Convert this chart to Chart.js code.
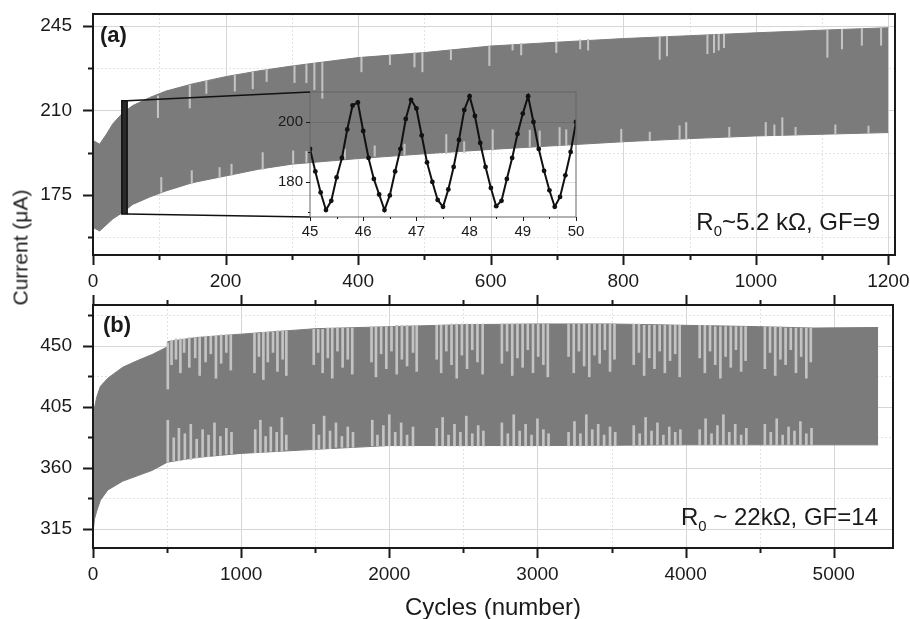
<!DOCTYPE html>
<html>
<head>
<meta charset="utf-8">
<script src="https://cdn.jsdelivr.net/npm/chart.js@4.4.1/dist/chart.umd.min.js"></script>
<style>
  html, body { margin: 0; padding: 0; background: #fff; }
  #wrap { position: relative; width: 910px; height: 619px; overflow: hidden;
          font-family: "Liberation Sans", Arial, sans-serif; color: #1a1a1a; }
  #wrap canvas { position: absolute; }
  .lbl { position: absolute; white-space: nowrap; line-height: 1; }
  .lbl sub { font-size: 0.62em; vertical-align: -0.4em; line-height: 0; }
</style>
</head>
<body>
<div id="wrap">
  <canvas id="chartA" width="910" height="290" style="left:0;top:0"></canvas>
  <canvas id="chartB" width="910" height="329" style="left:0;top:290px"></canvas>
  <canvas id="chartInset" width="330" height="165" style="left:255px;top:80px"></canvas>

  <div class="lbl" style="left:100px;top:24px;font-size:22px;font-weight:bold">(a)</div>
  <div class="lbl" style="left:103px;top:314px;font-size:22px;font-weight:bold">(b)</div>
  <div class="lbl" style="right:30px;top:210px;font-size:24px">R<sub>0</sub>~5.2 kΩ, GF=9</div>
  <div class="lbl" style="right:32px;top:505px;font-size:24px">R<sub>0</sub> ~ 22kΩ, GF=14</div>
  <div class="lbl" style="left:393px;top:595px;width:200px;text-align:center;font-size:24px">Cycles (number)</div>
  <div class="lbl" style="left:-80px;top:237px;width:200px;text-align:center;font-size:21px;transform:rotate(-90deg)">Current (μA)</div>
</div>

<script>
// ---------- panel (a): R0 ~ 5.2 kOhm ----------

const cyclesA = [0, 10, 20, 30, 45, 60, 85, 110, 150, 200, 250, 300, 400, 500, 600, 700, 800, 900, 1000, 1100, 1200];
const upperA  = [197.5, 196, 200, 204.5, 209, 212, 215.3, 218, 221, 224, 226.4, 228.4, 231.9, 234, 236.7, 238.3, 239.8, 241, 242.2, 243.3, 244.3];
const lowerA  = [161.4, 160, 162.5, 165, 167.7, 171, 174, 176.6, 180, 182.8, 185.6, 187.7, 190, 192, 193.8, 195.4, 197, 198.3, 199.4, 200.1, 200.8];

// light streaks hanging from the top edge: [cycle, from, to]
const streaksTopA = [
    [98, 207, 216], [146, 211, 220.5], [171, 217, 222.5], [214, 218, 224.5], [241, 219, 226],
    [262, 222, 227], [304, 221.5, 228.5], [322, 221.5, 229], [334, 218.6, 229.5], [346, 215, 229.8],
    [405, 226, 232], [448, 229, 233], [485, 228, 234], [497, 226, 234], [540, 231, 235],
    [598, 228.6, 236.7], [633, 235, 237.5], [646, 233, 237.8], [699, 234, 238.3], [735, 235.5, 239.3],
    [747, 235, 239.5], [855, 231.2, 240.6], [866, 232.6, 240.8], [927, 233.5, 241.3], [937, 234, 241.4],
    [944, 235, 241.5], [952, 236, 241.6], [1108, 232, 243.4], [1130, 235.5, 243.6], [1160, 237, 244],
    [1189, 237, 244.2]
];
// light streaks rising from the bottom edge
const streaksBotA = [
    [103, 176, 182.2], [149, 179.5, 185], [191, 182, 186.3], [209, 183, 187.7], [256, 185.5, 192.5],
    [302, 188, 193.2], [322, 188.5, 193], [380, 190, 194], [425, 191, 195.3], [470, 191.5, 196],
    [533, 192, 200], [560, 192.5, 197], [603, 193.5, 202], [659, 195, 201.8], [674, 195, 201.5],
    [704, 195.5, 202.9], [714, 195.5, 202], [797, 197, 202.2], [840, 197.5, 201], [885, 198, 203.6],
    [895, 198, 205], [960, 199, 203], [1015, 199.5, 205], [1028, 199.5, 204], [1040, 199.5, 207],
    [1060, 199.8, 203], [1120, 200, 204], [1170, 200.5, 203.5]
];

const ticksXA = [0, 100, 200, 300, 400, 500, 600, 700, 800, 900, 1000, 1100, 1200];
const ticksYA = [157.5, 175, 192.5, 210, 227.5, 245];

// zoomed window shown in the inset
const zoomBoxX = [45, 50];
const zoomBoxY = [167, 214];

// ---------- inset: cycles 45..50 ----------

const insetCycles = [
    45.0, 45.1, 45.2, 45.3, 45.4, 45.5, 45.6, 45.7, 45.8, 45.9,
    46.0, 46.1, 46.2, 46.3, 46.4, 46.5, 46.6, 46.7, 46.8, 46.9,
    47.0, 47.1, 47.2, 47.3, 47.4, 47.5, 47.6, 47.7, 47.8, 47.9,
    48.0, 48.1, 48.2, 48.3, 48.4, 48.5, 48.6, 48.7, 48.8, 48.9,
    49.0, 49.1, 49.2, 49.3, 49.4, 49.5, 49.6, 49.7, 49.8, 49.9, 50.0
];
const insetCurrent = [
    191, 183.5, 176.5, 170.6, 173.7, 181.5, 188, 197.5, 205.5, 206.5,
    197, 188, 181, 175.8, 170.6, 175.5, 183.5, 191, 201, 207.4,
    204.5, 195.5, 186.5, 180, 174, 171.7, 177.5, 185, 194, 204,
    208.6, 202, 193, 185, 178, 171.9, 173.7, 181, 188, 196,
    202.8, 208.6, 200, 191, 183.7, 177.2, 171.7, 175, 182.2, 190, 200
];
const ticksXI = [45, 45.5, 46, 46.5, 47, 47.5, 48, 48.5, 49, 49.5, 50];
const ticksYI = [170, 180, 190, 200, 210];

// ---------- panel (b): R0 ~ 22 kOhm ----------

const cyclesB = [0, 10, 25, 50, 100, 200, 300, 400, 500, 505, 700, 1000, 1500, 2000, 2500, 3000, 3500, 4000, 4500, 4860, 5300];
const upperB  = [390, 404, 412, 420, 426, 434, 439, 443.5, 449, 453, 456, 458.5, 462.5, 464, 465.5, 466, 466, 465, 464, 463, 463.4];
const lowerB  = [312, 322, 328, 336, 343.5, 350, 354, 358, 364, 364, 367.5, 370.5, 373.5, 376.3, 376.3, 376.3, 376.5, 376.8, 376.8, 376.8, 376.8];

const streaksTopB = [
    [505, 418, 452], [530, 436, 454], [560, 440, 455], [590, 430, 455], [615, 445, 455], [650, 434, 456],
    [690, 441, 456], [720, 428, 456], [760, 438, 457], [795, 444, 457], [830, 426, 457], [865, 437, 458],
    [900, 445, 458], [930, 432, 458],
    [1090, 430, 459], [1120, 442, 459], [1150, 425, 460], [1180, 438, 460], [1215, 445, 460], [1245, 431, 461],
    [1280, 440, 461], [1305, 428, 461],
    [1490, 436, 462], [1520, 445, 462], [1550, 430, 462], [1585, 441, 463], [1615, 426, 463], [1650, 446, 463],
    [1685, 434, 463], [1720, 440, 463], [1750, 429, 463],
    [1880, 438, 464], [1910, 427, 464], [1945, 444, 464], [1980, 433, 464], [2015, 446, 464], [2050, 429, 465],
    [2085, 440, 465], [2120, 435, 465], [2160, 445, 465], [2185, 431, 465],
    [2320, 440, 465], [2350, 430, 465], [2385, 446, 465], [2420, 436, 466], [2455, 426, 466], [2490, 443, 466],
    [2525, 433, 466], [2560, 447, 466], [2595, 438, 466], [2630, 429, 466],
    [2760, 437, 466], [2795, 446, 466], [2830, 428, 466], [2865, 441, 466], [2900, 434, 466], [2935, 447, 466],
    [2970, 430, 466], [3005, 442, 466], [3040, 436, 466], [3070, 427, 466],
    [3210, 442, 466], [3245, 430, 466], [3280, 446, 466], [3315, 435, 466], [3350, 427, 466], [3385, 443, 466],
    [3420, 437, 466], [3455, 447, 466], [3490, 431, 466], [3520, 440, 466],
    [3650, 436, 466], [3685, 445, 466], [3720, 428, 465], [3755, 441, 465], [3790, 433, 465], [3825, 446, 465],
    [3860, 430, 465], [3895, 439, 465], [3930, 444, 465], [3960, 427, 465],
    [4095, 441, 465], [4130, 430, 465], [4165, 446, 465], [4200, 436, 464], [4235, 426, 464], [4270, 442, 464],
    [4305, 434, 464], [4340, 447, 464], [4375, 431, 464], [4405, 439, 464],
    [4535, 433, 464], [4570, 445, 464], [4605, 428, 464], [4640, 440, 464], [4675, 436, 463], [4710, 447, 463],
    [4745, 430, 463], [4780, 442, 463], [4815, 426, 463], [4845, 438, 463]
];
const streaksBotB = [
    [505, 364, 395], [545, 365, 382], [580, 365, 389], [620, 366, 385], [660, 366, 392], [700, 367, 381],
    [740, 368, 388], [780, 368, 384], [820, 369, 393], [860, 369, 383], [900, 370, 389], [935, 370, 386],
    [1095, 371, 388], [1130, 371, 395], [1165, 371, 383], [1200, 372, 390], [1240, 372, 386], [1275, 372, 397],
    [1305, 373, 384],
    [1490, 373, 392], [1525, 374, 384], [1560, 374, 398], [1600, 374, 387], [1640, 375, 393], [1680, 375, 383],
    [1720, 375, 390], [1755, 375, 386],
    [1885, 376, 395], [1920, 376, 384], [1960, 376, 391], [2000, 376, 399], [2040, 376, 386], [2080, 376, 393],
    [2120, 376, 384], [2160, 376, 390],
    [2320, 376, 389], [2360, 376, 397], [2400, 376, 384], [2440, 376, 392], [2480, 376, 386], [2520, 376, 398],
    [2560, 376, 385], [2600, 376, 391], [2635, 376, 387],
    [2760, 376, 393], [2800, 376, 385], [2840, 376, 399], [2880, 376, 387], [2920, 376, 392], [2960, 376, 384],
    [3000, 376, 396], [3040, 376, 388], [3075, 376, 385],
    [3210, 376, 386], [3250, 376, 394], [3290, 376, 385], [3330, 376, 399], [3370, 376, 388], [3410, 376, 392],
    [3450, 376, 384], [3490, 376, 390], [3525, 376, 386],
    [3650, 376, 391], [3690, 376, 385], [3730, 377, 397], [3770, 377, 387], [3810, 377, 393], [3850, 377, 384],
    [3890, 377, 390], [3930, 377, 386], [3965, 377, 388],
    [4095, 377, 388], [4135, 377, 396], [4175, 377, 385], [4215, 377, 391], [4255, 377, 399], [4295, 377, 386],
    [4335, 377, 392], [4375, 377, 384], [4410, 377, 389],
    [4535, 377, 392], [4575, 377, 386], [4615, 377, 396], [4655, 377, 384], [4695, 377, 390], [4735, 377, 387],
    [4775, 377, 394], [4815, 377, 385], [4850, 377, 389]
];

const ticksXB = [0, 500, 1000, 1500, 2000, 2500, 3000, 3500, 4000, 4500, 5000];
const ticksYB = [315, 337.5, 360, 382.5, 405, 427.5, 450, 472.5];

// ---------- styling ----------

const BAND = "#7b7b7b";
const STREAK = "#c3c3c3";
const INK = "#1a1a1a";
const TICK_FONT = { family: '"Liberation Sans", Arial, sans-serif', size: 19 };
const INSET_FONT = { family: '"Liberation Sans", Arial, sans-serif', size: 15 };
// inset plot rectangle on the page (the zoom lines end here)
const INSET_LEFT = 310, INSET_TOP = 92, INSET_BOTTOM = 217;

function toPoints(xs, ys) {
    return xs.map((x, i) => ({ x, y: ys[i] }));
}

function toBars(list) {
    return list.map((s) => ({ x: s[0], y: [s[1], s[2]] }));
}

function isMultiple(v, step) {
    const r = v / step;
    return Math.abs(r - Math.round(r)) < 1e-6;
}

// grid, frame and outward tick marks drawn the Origin way
function originAxes(cfg) {
    return {
        id: "originAxes",
        beforeDatasetsDraw(chart) {
            const { ctx, chartArea: a, scales } = chart;
            ctx.save();
            ctx.beginPath();
            ctx.rect(a.left, a.top, a.right - a.left, a.bottom - a.top);
            ctx.clip();
            ctx.lineWidth = 1;
            if (cfg.gridX) {
                scales.x.ticks.forEach((t) => {
                    const px = Math.round(scales.x.getPixelForValue(t.value)) + 0.5;
                    const major = isMultiple(t.value, cfg.majorX);
                    ctx.strokeStyle = major ? "#d6d6d6" : "#e2e2e2";
                    ctx.setLineDash(major ? [] : [2, 2]);
                    ctx.beginPath();
                    ctx.moveTo(px, a.top);
                    ctx.lineTo(px, a.bottom);
                    ctx.stroke();
                });
            }
            scales.y.ticks.forEach((t) => {
                const major = isMultiple(t.value, cfg.majorY);
                if (!major && !cfg.minorGridY) return;
                const py = Math.round(scales.y.getPixelForValue(t.value)) + 0.5;
                ctx.strokeStyle = major ? cfg.gridColor : "#e2e2e2";
                ctx.setLineDash(major ? [] : [2, 2]);
                ctx.beginPath();
                ctx.moveTo(a.left, py);
                ctx.lineTo(a.right, py);
                ctx.stroke();
            });
            ctx.restore();
        },
        afterDraw(chart) {
            const { ctx, chartArea: a, scales } = chart;
            ctx.save();
            ctx.strokeStyle = cfg.frameColor;
            ctx.lineWidth = cfg.frameWidth;
            ctx.strokeRect(a.left, a.top, a.right - a.left, a.bottom - a.top);
            ctx.lineWidth = cfg.tickWidth;
            ctx.strokeStyle = INK;
            ctx.beginPath();
            scales.x.ticks.forEach((t) => {
                const px = Math.round(scales.x.getPixelForValue(t.value)) + 0.5;
                const len = isMultiple(t.value, cfg.majorX) ? cfg.major : cfg.minor;
                ctx.moveTo(px, a.bottom);
                ctx.lineTo(px, a.bottom + len);
                if (cfg.topTicks) {
                    ctx.moveTo(px, a.top);
                    ctx.lineTo(px, a.top - len);
                }
            });
            scales.y.ticks.forEach((t) => {
                const py = Math.round(scales.y.getPixelForValue(t.value)) + 0.5;
                const len = isMultiple(t.value, cfg.majorY) ? cfg.major : cfg.minor;
                ctx.moveTo(a.left, py);
                ctx.lineTo(a.left - len, py);
            });
            ctx.stroke();
            ctx.restore();
        }
    };
}

// the small box around cycles 45..50 and the lines out to the inset
const zoomLines = {
    id: "zoomLines",
    afterDatasetsDraw(chart) {
        const { ctx, scales: { x, y } } = chart;
        const x0 = x.getPixelForValue(zoomBoxX[0]);
        const x1 = x.getPixelForValue(zoomBoxX[1]);
        const yTop = y.getPixelForValue(zoomBoxY[1]);
        const yBot = y.getPixelForValue(zoomBoxY[0]);
        ctx.save();
        ctx.fillStyle = "#2a2a2a";
        ctx.strokeStyle = "#111";
        ctx.lineWidth = 1.5;
        ctx.fillRect(x0 - 1, yTop, x1 - x0 + 2, yBot - yTop);
        ctx.strokeRect(x0 - 1, yTop, x1 - x0 + 2, yBot - yTop);
        ctx.beginPath();
        ctx.moveTo(x1 + 1, yTop);
        ctx.lineTo(INSET_LEFT, INSET_TOP);
        ctx.moveTo(x1 + 1, yBot);
        ctx.lineTo(INSET_LEFT, INSET_BOTTOM);
        ctx.stroke();
        ctx.restore();
    }
};

function axis(min, max, tickValues, majorStep, pad, font, fitSize, vertical) {
    return {
        type: "linear",
        min,
        max,
        offset: false,
        grid: { display: false, drawTicks: false },
        border: { display: false },
        ticks: {
            autoSkip: false,
            maxRotation: 0,
            padding: pad,
            color: INK,
            font,
            callback: (v) => (isMultiple(v, majorStep) ? String(v) : "")
        },
        afterBuildTicks(s) {
            s.ticks = tickValues.map((v) => ({ value: v }));
        },
        afterFit(s) {
            if (vertical) s.width = fitSize;
            else s.height = fitSize;
            s.paddingLeft = 0;
            s.paddingRight = 0;
            s.paddingTop = 0;
            s.paddingBottom = 0;
        }
    };
}

function bandDatasets(xs, upper, lower, topStreaks, botStreaks, thickness) {
    const streak = {
        type: "bar",
        backgroundColor: STREAK,
        borderWidth: 0,
        barThickness: thickness,
        grouped: false
    };
    return [
        Object.assign({ data: toBars(topStreaks) }, streak),
        Object.assign({ data: toBars(botStreaks) }, streak),
        {
            data: toPoints(xs, upper),
            borderColor: BAND,
            backgroundColor: BAND,
            borderWidth: 1,
            pointRadius: 0,
            tension: 0,
            fill: "+1"
        },
        {
            data: toPoints(xs, lower),
            borderColor: BAND,
            borderWidth: 1,
            pointRadius: 0,
            tension: 0,
            fill: false
        }
    ];
}

const baseOptions = {
    responsive: false,
    animation: false,
    events: [],
    plugins: { legend: { display: false }, tooltip: { enabled: false } }
};

// ---------- charts ----------

new Chart(document.getElementById("chartA"), {
    type: "line",
    data: { datasets: bandDatasets(cyclesA, upperA, lowerA, streaksTopA, streaksBotA, 1.4) },
    options: Object.assign({}, baseOptions, {
        layout: { padding: { top: 14, right: 15, left: 0, bottom: 0 } },
        scales: {
            x: axis(0, 1210, ticksXA, 200, 15, TICK_FONT, 35, false),
            y: axis(150, 250, ticksYA, 35, 21, TICK_FONT, 93, true)
        }
    }),
    plugins: [
        originAxes({ majorX: 200, majorY: 35, major: 10, minor: 5, gridX: true, minorGridY: true,
                     gridColor: "#d6d6d6", frameColor: INK, frameWidth: 2, tickWidth: 2, topTicks: false }),
        zoomLines
    ]
});

new Chart(document.getElementById("chartB"), {
    type: "line",
    data: { datasets: bandDatasets(cyclesB, upperB, lowerB, streaksTopB, streaksBotB, 2) },
    options: Object.assign({}, baseOptions, {
        layout: { padding: { top: 15, right: 17, left: 0, bottom: 0 } },
        scales: {
            x: axis(0, 5400, ticksXB, 1000, 15, TICK_FONT, 71, false),
            y: axis(300.7, 480, ticksYB, 45, 21, TICK_FONT, 93, true)
        }
    }),
    plugins: [
        originAxes({ majorX: 1000, majorY: 45, major: 10, minor: 5, gridX: true, minorGridY: true,
                     gridColor: "#d6d6d6", frameColor: INK, frameWidth: 2, tickWidth: 2, topTicks: true })
    ]
});

new Chart(document.getElementById("chartInset"), {
    type: "line",
    data: {
        datasets: [{
            data: toPoints(insetCycles, insetCurrent),
            borderColor: "#111",
            borderWidth: 2,
            pointRadius: 2.4,
            pointBackgroundColor: "#111",
            pointBorderWidth: 0,
            tension: 0
        }]
    },
    options: Object.assign({}, baseOptions, {
        layout: { padding: { top: 12, right: 9, left: 0, bottom: 0 } },
        scales: {
            x: axis(45, 50, ticksXI, 1, 6, INSET_FONT, 28, false),
            y: axis(168.3, 210, ticksYI, 20, 7, INSET_FONT, 55, true)
        }
    }),
    plugins: [
        originAxes({ majorX: 1, majorY: 20, major: 4, minor: 2, gridX: false, minorGridY: false,
                     gridColor: "rgba(0,0,0,0.12)", frameColor: "#666", frameWidth: 1, tickWidth: 1, topTicks: false })
    ]
});
</script>
</body>
</html>
